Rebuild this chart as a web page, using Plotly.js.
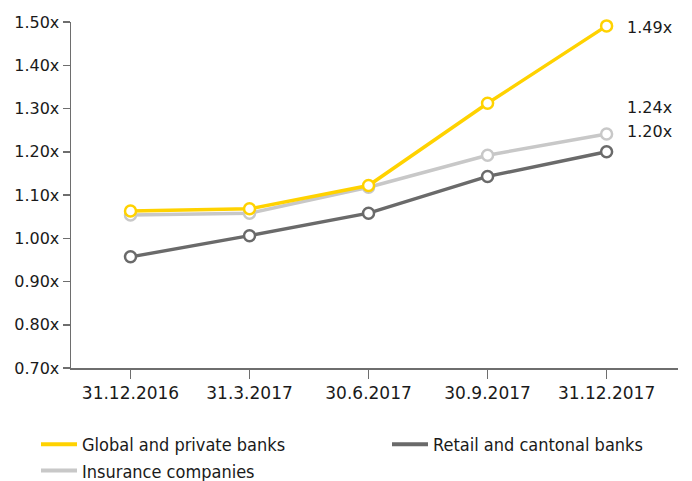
<!DOCTYPE html>
<html><head><meta charset="utf-8">
<script src="https://cdn.plot.ly/plotly-3.0.1.min.js"></script>
<style>body{margin:0;background:#fff}#chart{width:692px;height:481px}</style>
</head><body><div id="chart"></div>
<script>
const categories = ["31.12.2016","31.3.2017","30.6.2017","30.9.2017","31.12.2017"];
const seriesNames = ["Global and private banks","Retail and cantonal banks","Insurance companies"];
const globalBanks = [1.063, 1.068, 1.122, 1.312, 1.491];
const retailBanks = [0.957, 1.006, 1.058, 1.143, 1.200];
const insurance = [1.054, 1.058, 1.118, 1.192, 1.241];
const yTickVals = [0.7,0.8,0.9,1.0,1.1,1.2,1.3,1.4,1.5];
const yTickText = ["0.70x","0.80x","0.90x","1.00x","1.10x","1.20x","1.30x","1.40x","1.50x"];
const endLabels = ["1.49x","1.24x","1.20x"];

const colors = {global:'#ffd200', retail:'#6a6a6a', insurance:'#c8c8c8'};
const xIdx = categories.map((c,i)=>i);
function tr(name, y, color){
  return {type:'scatter', mode:'lines+markers', name:name, x:xIdx, y:y, showlegend:false,
    cliponaxis:false,
    line:{color:color, width:3.5},
    marker:{symbol:'circle', size:11, color:'#ffffff', line:{color:color, width:2.5}},
    hoverinfo:'skip'};
}
function leg(name, color, legendId){
  return {type:'scatter', mode:'lines', name:name, x:[null], y:[null], showlegend:true,
    legend:legendId, line:{color:color, width:4}, hoverinfo:'skip'};
}
const data = [
  tr(seriesNames[2], insurance, colors.insurance),
  tr(seriesNames[1], retailBanks, colors.retail),
  tr(seriesNames[0], globalBanks, colors.global),
  leg(seriesNames[0], colors.global, 'legend'),
  leg(seriesNames[2], colors.insurance, 'legend'),
  leg(seriesNames[1], colors.retail, 'legend2')
];
const last = categories.length-1;
const tickFontFamily = 'DejaVu Sans, sans-serif';
const annFont = {family:tickFontFamily, size:16, color:'#1a1a1a'};
const legFont = {family:'Liberation Sans Narrow, DejaVu Sans Condensed, sans-serif', size:18, color:'#1a1a1a'};
const legTop = 1-426/481;
const layout = {
  width:692, height:481,
  margin:{l:71, r:14, t:22, b:113, autoexpand:false},
  paper_bgcolor:'#fff', plot_bgcolor:'#fff',
  font:{family:tickFontFamily, size:16, color:'#1a1a1a'},
  showlegend:true,
  legend:{orientation:'v', xref:'container', yref:'container', x:36/692, xanchor:'left', y:legTop, yanchor:'top',
    traceorder:'normal', font:legFont, itemwidth:36, bgcolor:'rgba(0,0,0,0)'},
  legend2:{orientation:'v', xref:'container', yref:'container', x:387/692, xanchor:'left', y:legTop, yanchor:'top',
    traceorder:'normal', font:legFont, itemwidth:36, bgcolor:'rgba(0,0,0,0)'},
  xaxis:{range:[-0.5,4.6], tickvals:xIdx, ticktext:categories, showgrid:false, zeroline:false,
    showline:true, linecolor:'#6e6e6e', linewidth:1.5, ticks:'outside', ticklen:9, tickcolor:'#6e6e6e', tickwidth:1.5,
    tickfont:{family:tickFontFamily, size:17, color:'#1a1a1a'}, fixedrange:true},
  yaxis:{range:[0.7,1.5], tickvals:yTickVals, ticktext:yTickText, showgrid:false, zeroline:false,
    showline:true, linecolor:'#6e6e6e', linewidth:1.5, ticks:'outside', ticklen:7, tickcolor:'#6e6e6e', tickwidth:1.5,
    tickfont:{family:tickFontFamily, size:16, color:'#1a1a1a'}, fixedrange:true},
  annotations:[
    {x:last, y:globalBanks[last], text:endLabels[0], showarrow:false, xanchor:'left', xshift:18, yshift:-2, font:annFont},
    {x:last, y:insurance[last], text:endLabels[1], showarrow:false, xanchor:'left', xshift:18, yshift:27, font:annFont},
    {x:last, y:retailBanks[last], text:endLabels[2], showarrow:false, xanchor:'left', xshift:18, yshift:20, font:annFont}
  ]
};
Plotly.newPlot('chart', data, layout, {displayModeBar:false, staticPlot:true});
</script></body></html>
